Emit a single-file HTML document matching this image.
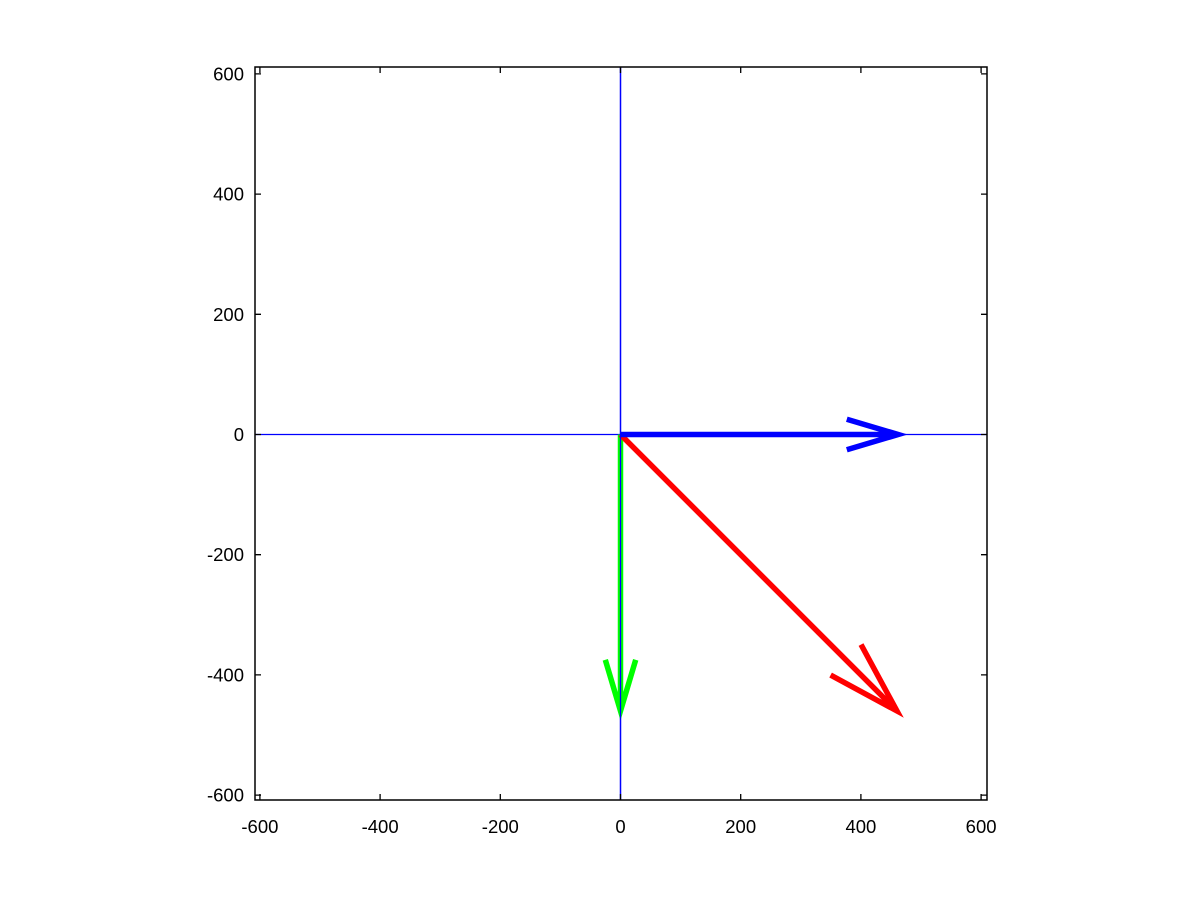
<!DOCTYPE html>
<html><head><meta charset="utf-8"><style>
html,body{margin:0;padding:0;background:#fff;}
svg{display:block;font-family:"Liberation Sans",sans-serif;}
</style></head><body>
<svg id="chart" width="1200" height="900" xmlns="http://www.w3.org/2000/svg">
<g id="plot"></g>
</svg>
<script>
const xTicks = [-600,-400,-200,0,200,400,600];
const yTicks = [-600,-400,-200,0,200,400,600];
const vecU = [0, 460, 462];
const vecV = [-460, -460, 0];
const vecColors = ['#00ff00','#ff0000','#0000ff'];
const vecNames = ['green-arrow','red-arrow','blue-arrow'];

const L=255,R=987,T=67,B=800;
const x0=620.5,y0=434.5,s=0.601;
const sx=v=>x0+v*s, sy=v=>y0-v*s;
const NS='http://www.w3.org/2000/svg';
const g=document.getElementById('plot');
function mk(tag,attrs){const e=document.createElementNS(NS,tag);for(const k in attrs)e.setAttribute(k,attrs[k]);g.appendChild(e);return e;}

let e=mk('line',{x1:sx(0),y1:T,x2:sx(0),y2:B,stroke:'#0000ff','stroke-width':1.3});


e=mk('line',{x1:L,y1:sy(0),x2:R,y2:sy(0),stroke:'#0000ff','stroke-width':1.3});



for(let i=0;i<vecU.length;i++){
  const ax=sx(0),ay=sy(0),bx=sx(vecU[i]),by=sy(vecV[i]);
  const dx=bx-ax,dy=by-ay,len=Math.hypot(dx,dy),ux=dx/len,uy=dy/len;
  const hl=0.185*len,hw=0.055*len;
  const cx=bx-ux*hl,cy=by-uy*hl;
  const p1=[cx-uy*hw,cy+ux*hw],p2=[cx+uy*hw,cy-ux*hw];
  const a=mk('path',{d:`M${ax},${ay}L${bx},${by}M${p1[0]},${p1[1]}L${bx},${by}L${p2[0]},${p2[1]}`,fill:'none',stroke:vecColors[i],'stroke-width':5.5,'stroke-linejoin':'miter'});
  
  
}
e=mk('line',{x1:sx(0),y1:T,x2:sx(0),y2:B,stroke:'#0000ff','stroke-width':1.3});



e=mk('rect',{x:L,y:T,width:R-L,height:B-T,fill:'none',stroke:'#000','stroke-width':1.5});



xTicks.forEach(t=>{
  const x=sx(t);
  let tk=mk('path',{d:`M${x},${B}v-6M${x},${T}v6`,stroke:'#000','stroke-width':1.3});
  
  
  const lb=mk('text',{x:x,y:B+33,'text-anchor':'middle','font-size':18.5});
  lb.textContent=t;
  
  
});
yTicks.forEach(t=>{
  const y=sy(t);
  let tk=mk('path',{d:`M${L},${y}h6M${R},${y}h-6`,stroke:'#000','stroke-width':1.3});
  
  
  const lb=mk('text',{x:L-11,y:y+6.5,'text-anchor':'end','font-size':18.5});
  lb.textContent=t;
  
  
});
</script>
</body></html>
